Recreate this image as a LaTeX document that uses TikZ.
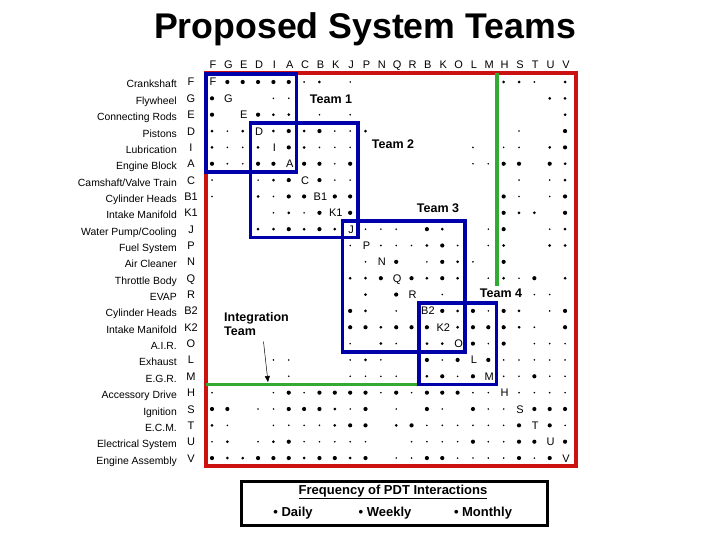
\documentclass[tikz,border=0pt]{standalone}
\usepackage{fontspec}
\setmainfont{Liberation Sans}
\usetikzlibrary{arrows.meta}
\definecolor{teamred}{RGB}{204,17,17}
\definecolor{teamblue}{RGB}{0,0,170}
\definecolor{teamgreen}{RGB}{51,170,51}
\begin{document}
\begin{tikzpicture}[x=1pt,y=-1pt,
                    dot/.style={circle,fill=black,inner sep=0pt},
                    letter/.style={font=\fontsize{11}{12}\selectfont,inner sep=0pt,anchor=base},
                    rowname/.style={anchor=base east,font=\fontsize{10.4}{12}\selectfont,inner sep=0pt},
                    team/.style={font=\fontsize{12.5}{14}\selectfont\bfseries,inner sep=0pt},
                    teambox/.style={draw=teamblue,line width=3.6pt},
                    legendtext/.style={font=\fontsize{13}{15}\selectfont\bfseries,inner sep=0pt,anchor=base}
                   ]
   \useasboundingbox (0,0) rectangle (720,540);
   \node[font=\fontsize{35.7}{40}\selectfont\bfseries,anchor=base] (title) at (365,39) {Proposed System Teams};

   % row names and row letters
   \foreach \lab/\name [count=\i from 0] in {F/Crankshaft,G/Flywheel,E/Connecting Rods,D/Pistons,
        I/Lubrication,A/Engine Block,C/{Camshaft/Valve Train},B1/Cylinder Heads,K1/Intake Manifold,
        J/{Water Pump/Cooling},P/Fuel System,N/Air Cleaner,Q/Throttle Body,R/EVAP,B2/Cylinder Heads,
        K2/Intake Manifold,O/A.I.R.,L/Exhaust,M/E.G.R.,H/Accessory Drive,S/Ignition,T/E.C.M.,
        U/Electrical System,V/Engine Assembly}{
      \node[rowname] (name\i) at (177,{88+16.35*\i}) {\name};
      \node[letter] (rowid\i) at (191,{86+16.35*\i}) {\lab};
   }
   % column letters
   \foreach \lab [count=\i from 0] in {F,G,E,D,I,A,C,B,K,J,P,N,Q,R,B,K,O,L,M,H,S,T,U,V}
      \node[letter] (col\i) at ({213+15.35*\i},69) {\lab};

   % frame, integration lines, team boxes
   \draw[teamred,line width=3.6pt] (206,73) rectangle (576,466);
   \draw[teamgreen,line width=3.6pt] (497,73) -- (497,286);
   \draw[teamgreen,line width=3.6pt] (206,384.4) -- (419.2,384.4);
   \draw[teambox] (206,73.8) rectangle (296.4,171.9);
   \draw[teambox] (250.4,122.9) rectangle (357.8,237.3);
   \draw[teambox] (342.5,221) rectangle (465.1,351.7);
   \draw[teambox] (419.2,302.7) rectangle (496.5,384.4);

   % diagonal letters
   \foreach \lab [count=\i from 0] in {F,G,E,D,I,A,C,B1,K1,J,P,N,Q,R,B2,K2,O,L,M,H,S,T,U,V}
      \node[letter] (diag\i) at ({213+15.35*\i},{86+16.35*\i}) {\lab};

   % interactions: column/size (1 monthly, 2 weekly, 3 daily)
   \foreach \r/\cells in {
        0/{1/3,2/3,3/3,4/3,5/3,6/1,7/2,9/1,19/2,20/2,21/1,23/2},
        1/{0/3,4/1,5/1,22/2,23/2},
        2/{0/3,3/3,4/2,5/2,7/1,9/1,23/2},
        3/{0/2,1/1,2/2,4/2,5/3,6/2,7/3,8/1,9/1,10/2,20/1,23/3},
        4/{0/2,1/1,2/1,3/2,5/3,6/2,7/1,8/1,9/1,17/1,19/1,20/1,22/2,23/3},
        5/{0/3,1/1,2/1,3/3,4/3,6/3,7/3,8/1,9/3,17/1,18/1,19/3,20/3,22/3,23/2},
        6/{0/1,3/1,4/2,5/3,7/3,8/1,9/1,20/1,22/1,23/2},
        7/{0/1,3/2,4/1,5/3,6/3,8/3,9/3,19/3,20/1,22/1,23/3},
        8/{4/1,5/2,6/1,7/3,9/3,19/3,20/2,21/2,23/3},
        9/{3/2,4/2,5/3,6/2,7/3,8/2,10/1,11/1,12/1,14/3,15/2,18/1,19/3,22/1,23/2},
        10/{9/1,11/1,12/1,13/1,14/2,15/3,16/1,18/1,19/2,22/2,23/2},
        11/{10/1,12/3,14/1,15/3,16/2,17/1,19/3},
        12/{9/2,10/2,11/3,13/3,14/2,15/3,16/2,18/1,19/2,20/1,21/3,23/2},
        13/{10/2,12/3,15/1,21/1,22/1},
        14/{9/3,10/2,12/1,15/3,16/2,17/3,18/1,19/3,20/2,22/1,23/3},
        15/{9/3,10/3,11/2,12/3,13/3,14/3,16/2,17/3,18/3,19/3,20/2,21/1,23/3},
        16/{9/1,11/2,12/1,14/2,15/2,17/3,18/1,19/3,21/1,22/1,23/1},
        17/{4/1,5/1,9/1,10/2,11/1,14/3,15/1,16/3,18/3,19/1,20/1,21/1,22/1,23/1},
        18/{5/1,9/1,10/1,11/1,12/1,14/2,15/3,16/1,17/3,19/1,20/1,21/3,22/1,23/1},
        19/{0/1,4/1,5/3,6/1,7/3,8/3,9/3,10/3,11/1,12/3,13/1,14/3,15/3,16/3,17/1,18/1,20/1,21/1,22/1,23/1},
        20/{0/3,1/3,3/1,4/1,5/3,6/3,7/3,8/2,9/1,10/3,12/1,14/3,15/1,17/3,18/1,19/1,21/3,22/3,23/3},
        21/{0/2,1/1,4/1,5/1,6/1,7/1,8/2,9/3,10/3,12/2,13/3,14/1,15/1,16/1,17/1,18/1,19/1,20/3,22/3,23/1},
        22/{0/1,1/2,3/1,4/2,5/3,6/1,7/1,8/1,9/1,10/1,13/1,14/1,15/1,16/1,17/3,18/1,19/1,20/3,21/3,23/3},
        23/{0/3,1/2,2/2,3/3,4/3,5/3,6/2,7/3,8/3,9/2,10/3,12/1,13/1,14/3,15/3,16/1,17/1,18/1,19/1,20/3,21/1,22/3}}{
      \foreach \c/\s in \cells
         \node[dot,minimum size=0.6pt+1.2pt*\s] (d\r-\c) at ({212+15.35*\c},{82+16.35*\r}) {};
   }

   \node[team] (t1) at (331,99) {Team 1};
   \node[team] (t2) at (393,144) {Team 2};
   \node[team] (t3) at (438,208) {Team 3};
   \node[team] (t4) at (501,293) {Team 4};
   \node[team,align=left,anchor=north west] (integ) at (224,312) {Integration\\Team};
   \coordinate (arrowtip) at (268,382);
   \draw[-{Triangle[length=6pt,width=5pt]},line width=0.5pt] ([xshift=7pt,yshift=-6pt]integ.south) -- (arrowtip);

   % legend
   \node[draw,line width=3pt,minimum width=306pt,minimum height=44pt,inner sep=0pt] (legend) at (394,503) {};
   \node[legendtext] (freq) at (393,494) {\underline{Frequency of PDT Interactions}};
   \node[legendtext] (daily) at (293,516) {• Daily};
   \node[legendtext] (weekly) at (385,516) {• Weekly};
   \node[legendtext] (monthly) at (483,516) {• Monthly};
\end{tikzpicture}
\end{document}
